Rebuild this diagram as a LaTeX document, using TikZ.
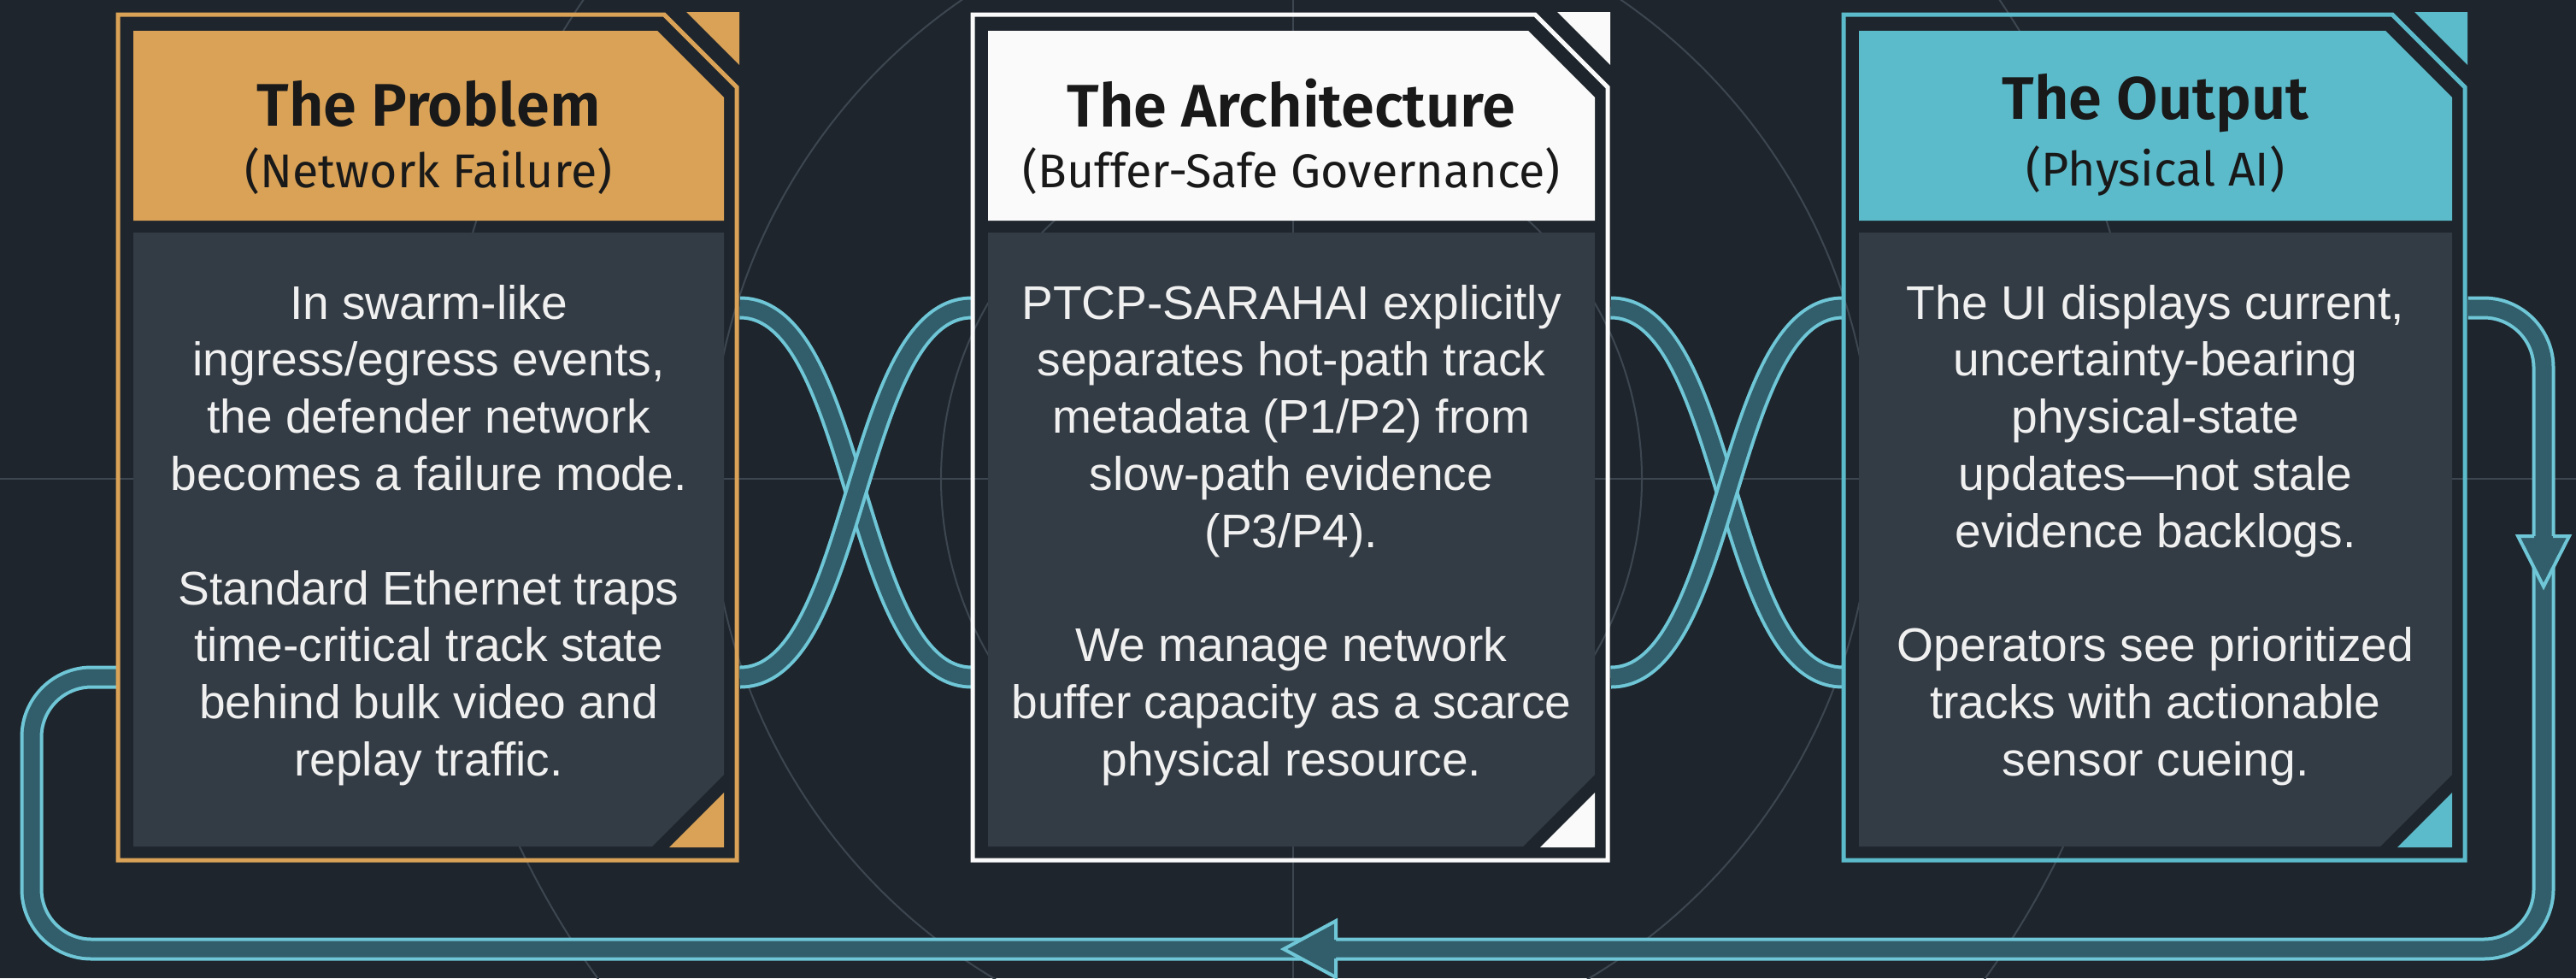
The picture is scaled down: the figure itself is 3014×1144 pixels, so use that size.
\documentclass[tikz,border=0pt]{standalone}
\usepackage{fontspec}
\setmainfont{Liberation Sans}
\newfontfamily\headfont{Fira Sans}
\newfontfamily\headfontsb{Fira Sans SemiBold}
\usetikzlibrary{fit}

\definecolor{bg}{HTML}{1E252C}
\definecolor{gridline}{HTML}{3D4650}
\definecolor{slate}{HTML}{333B44}
\definecolor{amber}{HTML}{D9A257}
\definecolor{paper}{HTML}{FAFAFA}
\definecolor{aqua}{HTML}{5CBBCB}
\definecolor{rim}{HTML}{6FC6D6}
\definecolor{pipe}{HTML}{315E6A}

\pgfdeclarelayer{back}
\pgfdeclarelayer{pipes}
\pgfsetlayers{back,pipes,main}

\tikzset{
  band/.style = {line width = .4mm, draw = rim, double = pipe, double distance = 1.9mm},
  tip/.style = {fill = pipe, draw = rim, line width = .4mm, line join = miter},
  title/.style = {font = \headfontsb\fontsize{20}{23}\selectfont, text = black!90},
  subtitle/.style = {font = \headfont\fontsize{15.8}{18}\selectfont, text = black!90},
  bodytext/.style = {align = center, text = white!94!black, font = \fontsize{15.7}{19}\selectfont}
}

\newcommand\card[7]{%
  \node[fit = {(#2,17) (#3,1006)}, inner sep = 0pt] (#1) {};
  \fill[#4] ({#3-62},14) -- (#3,14) -- (#3,76) -- cycle;
  \draw[#4, line width = .5mm] (#2,17) -- ({#3-88},17) -- ({#3-3},102) -- ({#3-3},1006) -- (#2,1006) -- cycle;
  \fill[#4] ({#2+18},36) -- ({#3-96},36) -- ({#3-18},114) -- ({#3-18},258) -- ({#2+18},258) -- cycle;
  \fill[slate] ({#2+18},272) -- ({#3-18},272) -- ({#3-18},906) -- ({#3-102},990) -- ({#2+18},990) -- cycle;
  \fill[#4] ({#3-18},927) -- ({#3-18},991) -- ({#3-82},991) -- cycle;
  \node[title] (#1-t) at ({(#2+#3)/2},121) {#5};
  \node[subtitle] (#1-s) at ({(#2+#3)/2},200) {#6};
  \node[bodytext] (#1-b) at ({(#2+#3)/2},626) {#7};
}

\begin{document}
\begin{tikzpicture}
  [x = .1mm, y = -.1mm]

  \useasboundingbox (0,0) rectangle (3014,1144);

  \begin{pgfonlayer}{back}
    \fill[bg] (0,0) rectangle (3014,1144);
    \draw[gridline, line width = .2mm] (0,560) -- (3014,560) (1513,0) -- (1513,1144);
    \foreach \r in {410, 680, 1000}
      \draw[gridline, line width = .2mm] (1511,560) circle (\r);
  \end{pgfonlayer}

  \card{prob}{138}{865}{amber}{The Problem}{(Network Failure)}
    {In swarm-like\\ingress/egress events,\\the defender network\\becomes a failure mode.\\[19pt]
     Standard Ethernet traps\\time-critical track state\\behind bulk video and\\replay traffic.}
  \card{arch}{1138}{1884}{paper}{The Architecture}{(Buffer-Safe Governance)}
    {PTCP-SARAHAI explicitly\\separates hot-path track\\metadata (P1/P2) from\\slow-path evidence\\(P3/P4).\\[19pt]
     We manage network\\buffer capacity as a scarce\\physical resource.}
  \card{outp}{2157}{2887}{aqua}{The Output}{(Physical AI)}
    {The UI displays current,\\uncertainty-bearing\\physical-state\\updates\textemdash not stale\\evidence backlogs.\\[19pt]
     Operators see prioritized\\tracks with actionable\\sensor cueing.}

  \coordinate (hi) at (0,360);
  \coordinate (lo) at (0,792);
  \coordinate (ne) at (2976,360);
  \coordinate (se) at (2976,1110);
  \coordinate (sw) at (37,1110);
  \coordinate (nw) at (37,792);

  \begin{pgfonlayer}{pipes}
    \draw[band] (prob.east |- hi) .. controls +(140,0) and +(-140,0) .. (arch.west |- lo);
    \draw[band] (prob.east |- lo) .. controls +(140,0) and +(-140,0) .. (arch.west |- hi);
    \draw[band] (arch.east |- hi) .. controls +(140,0) and +(-140,0) .. (outp.west |- lo);
    \draw[band] (arch.east |- lo) .. controls +(140,0) and +(-140,0) .. (outp.west |- hi);
    \draw[band, rounded corners = 7mm] (outp.east |- hi) -- (ne) -- (se) -- (sw) -- (nw) -- (prob.west |- lo);
    \filldraw[tip] (2965,627) -- (2946,627) -- (2976,686) -- (3006,627) -- (2987,627);
    \filldraw[tip] (1563,1099) -- (1563,1077) -- (1502,1110) -- (1563,1143) -- (1563,1121);
  \end{pgfonlayer}
\end{tikzpicture}
\end{document}
